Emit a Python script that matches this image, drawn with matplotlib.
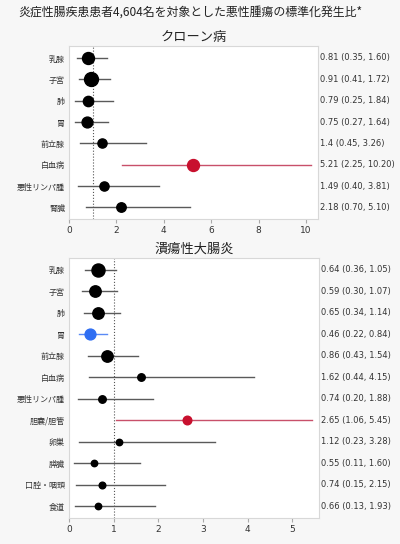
import matplotlib
matplotlib.use("Agg")
import matplotlib.pyplot as plt

plt.rcParams['font.family'] = ['Noto Sans CJK JP', 'DejaVu Sans']

# クローン病
cd_sites = ['乳腺', '子宮', '肺', '胃', '前立腺', '白血病', '悪性リンパ腫', '腎臓']
cd_sir = [0.81, 0.91, 0.79, 0.75, 1.4, 5.21, 1.49, 2.18]
cd_lo = [0.35, 0.41, 0.25, 0.27, 0.45, 2.25, 0.40, 0.70]
cd_hi = [1.60, 1.72, 1.84, 1.64, 3.26, 10.20, 3.81, 5.10]
cd_text = ['0.81 (0.35, 1.60)', '0.91 (0.41, 1.72)', '0.79 (0.25, 1.84)', '0.75 (0.27, 1.64)',
           '1.4 (0.45, 3.26)', '5.21 (2.25, 10.20)', '1.49 (0.40, 3.81)', '2.18 (0.70, 5.10)']
cd_size = [8.6, 10, 7.4, 7.8, 6.6, 8.6, 6.6, 6.8]
cd_color = ['k', 'k', 'k', 'k', 'k', 'red', 'k', 'k']

# 潰瘍性大腸炎
uc_sites = ['乳腺', '子宮', '肺', '胃', '前立腺', '白血病', '悪性リンパ腫', '胆嚢/胆管',
            '卵巣', '膵臓', '口腔・咽頭', '食道']
uc_sir = [0.64, 0.59, 0.65, 0.46, 0.86, 1.62, 0.74, 2.65, 1.12, 0.55, 0.74, 0.66]
uc_lo = [0.36, 0.30, 0.34, 0.22, 0.43, 0.44, 0.20, 1.06, 0.23, 0.11, 0.15, 0.13]
uc_hi = [1.05, 1.07, 1.14, 0.84, 1.54, 4.15, 1.88, 5.45, 3.28, 1.60, 2.15, 1.93]
uc_text = ['0.64 (0.36, 1.05)', '0.59 (0.30, 1.07)', '0.65 (0.34, 1.14)', '0.46 (0.22, 0.84)',
           '0.86 (0.43, 1.54)', '1.62 (0.44, 4.15)', '0.74 (0.20, 1.88)', '2.65 (1.06, 5.45)',
           '1.12 (0.23, 3.28)', '0.55 (0.11, 1.60)', '0.74 (0.15, 2.15)', '0.66 (0.13, 1.93)']
uc_size = [9.4, 8.2, 8.2, 7.8, 8.2, 5.4, 5.4, 6.2, 4.6, 4.6, 4.8, 4.6]
uc_color = ['k', 'k', 'k', 'blue', 'k', 'k', 'k', 'red', 'k', 'k', 'k', 'k']

COLORS = {'k': ('#000000', '#5a5a5a'), 'red': ('#c8102e', '#c8506a'), 'blue': ('#2f6ef2', '#5a8af5')}


def forest(ax, sites, sir, lo, hi, text, size, color, xmax, ticks, title):
    n = len(sites)
    for i in range(n):
        dot, line = COLORS[color[i]]
        ax.plot([lo[i], hi[i]], [i, i], color=line, lw=1.0, zorder=2)
        ax.plot(sir[i], i, 'o', ms=size[i], color=dot, zorder=3)
        ax.text(1.008, i, text[i], transform=ax.get_yaxis_transform(), va='center', ha='left',
                fontsize=6, color='#333333', family='DejaVu Sans')
    ax.axvline(1, color='#555555', ls=':', lw=0.8, zorder=1)
    ax.set_ylim(n - 0.45, -0.55)
    ax.set_xlim(0, xmax)
    ax.set_yticks(range(n))
    ax.set_yticklabels(sites, fontsize=5.8, color='#333333')
    ax.set_xticks(ticks)
    ax.set_xticklabels([str(t) for t in ticks], fontsize=6.5, color='#333333', family='DejaVu Sans')
    ax.tick_params(axis='y', length=0, pad=3)
    ax.tick_params(axis='x', length=3, color='#aaaaaa', pad=2)
    for s in ax.spines.values():
        s.set_color('#d8d8d8')
    ax.set_facecolor('white')
    ax.set_title(title, fontsize=9.5, pad=4, color='#222222')


fig = plt.figure(figsize=(4.0, 5.44), dpi=100, facecolor='#f7f7f7')
fig.text(0.045, 0.978, '炎症性腸疾患患者4,604名を対象とした悪性腫瘍の標準化発生比*',
         fontsize=8.6, va='center', ha='left', color='#222222')

ax1 = fig.add_axes([0.1725, 0.597, 0.6225, 0.318])
forest(ax1, cd_sites, cd_sir, cd_lo, cd_hi, cd_text, cd_size, cd_color, 10.5, [0, 2, 4, 6, 8, 10], 'クローン病')

ax2 = fig.add_axes([0.1725, 0.048, 0.625, 0.478])
forest(ax2, uc_sites, uc_sir, uc_lo, uc_hi, uc_text, uc_size, uc_color, 5.6, [0, 1, 2, 3, 4, 5], '潰瘍性大腸炎')

fig.savefig('out.png', dpi=100, facecolor=fig.get_facecolor())
